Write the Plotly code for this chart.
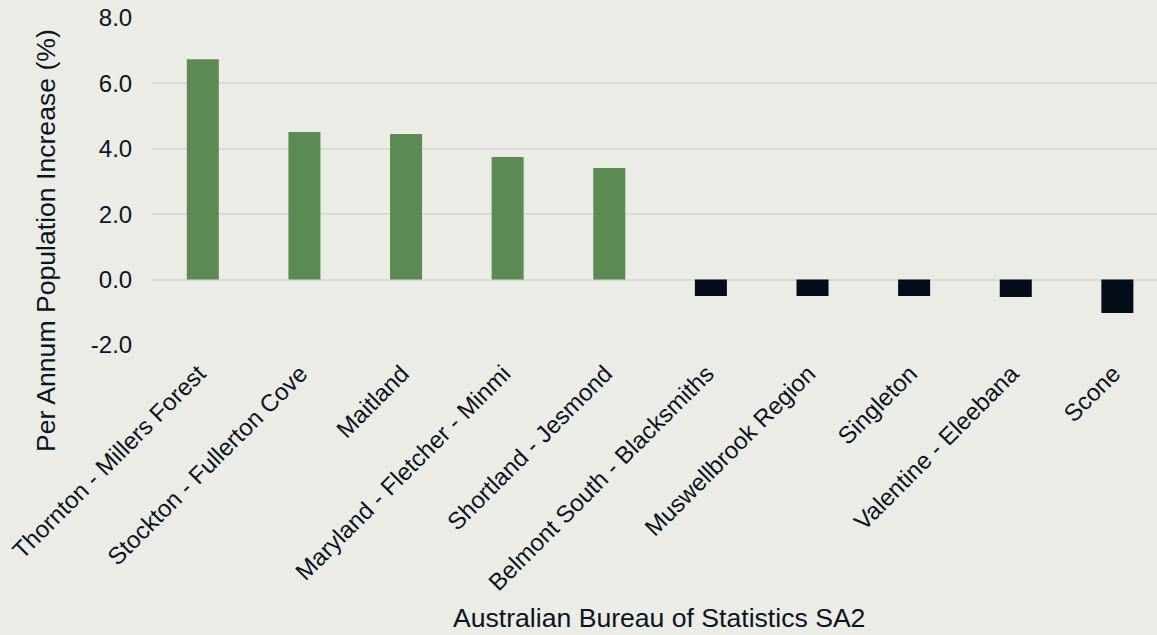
import plotly.graph_objects as go

categories = [
    "Thornton - Millers Forest",
    "Stockton - Fullerton Cove",
    "Maitland",
    "Maryland - Fletcher - Minmi",
    "Shortland - Jesmond",
    "Belmont South - Blacksmiths",
    "Muswellbrook Region",
    "Singleton",
    "Valentine - Eleebana",
    "Scone",
]
values = [6.74, 4.51, 4.45, 3.75, 3.41, -0.50, -0.50, -0.50, -0.53, -1.02]
y_ticks = [-2, 0, 2, 4, 6, 8]
y_tick_labels = ["-2.0", "0.0", "2.0", "4.0", "6.0", "8.0"]
x_title = "Australian Bureau of Statistics SA2"
y_title = "Per Annum Population Increase (%)"

GREEN = "#5B8A52"
DARK = "#030D1A"
BG = "#ECECE7"
TEXT = "#0A1420"

colors = [GREEN if v >= 0 else DARK for v in values]

fig = go.Figure(
    go.Bar(
        x=categories,
        y=values,
        marker=dict(color=colors, line=dict(width=0)),
        width=0.315,
        showlegend=False,
    )
)

fig.update_layout(
    width=1157,
    height=635,
    margin=dict(l=152, r=0, t=18, b=290, autoexpand=False),
    paper_bgcolor=BG,
    plot_bgcolor=BG,
    font=dict(family="Liberation Sans, Arial, sans-serif", color=TEXT, size=24),
    xaxis=dict(
        range=[-0.5, 9.39],
        tickangle=-45,
        tickfont=dict(size=24),
        showgrid=False,
        zeroline=False,
        showline=False,
        ticks="outside",
        ticklen=4,
        tickcolor="rgba(0,0,0,0)",
        ticklabelshift=-4,
        automargin=False,
    ),
    yaxis=dict(
        range=[-2, 8],
        tickvals=y_ticks,
        ticktext=y_tick_labels,
        tickfont=dict(size=24),
        showgrid=True,
        gridcolor="#DADAD6",
        gridwidth=1.5,
        zeroline=False,
        showline=False,
        ticks="outside",
        ticklen=14,
        tickcolor="rgba(0,0,0,0)",
        automargin=False,
    ),
    annotations=[
        dict(
            text=y_title,
            textangle=-90,
            xref="paper",
            yref="paper",
            x=-0.1055,
            y=0.321,
            xanchor="center",
            yanchor="middle",
            showarrow=False,
            font=dict(size=26.6, color=TEXT),
        ),
        dict(
            text=x_title,
            xref="paper",
            yref="paper",
            x=0.5045,
            y=-0.835,
            xanchor="center",
            yanchor="middle",
            showarrow=False,
            font=dict(size=26.6, color=TEXT),
        ),
    ],
)

fig.write_html(
    "out.html",
    config={"displayModeBar": False},
    post_script="document.body.style.margin='0';",
)
